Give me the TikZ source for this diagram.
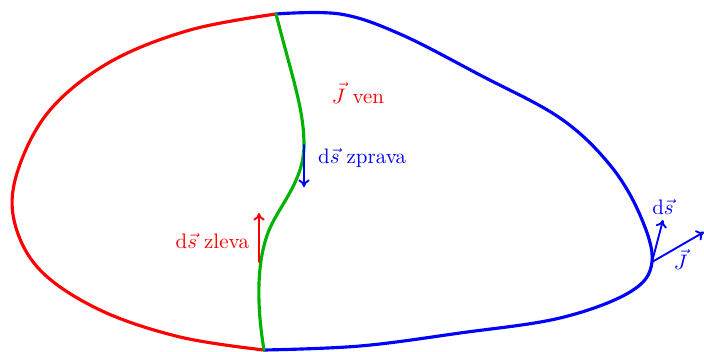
\documentclass[tikz,border=0pt]{standalone}
\usetikzlibrary{positioning, arrows.meta}
\begin{document}
\begin{tikzpicture}[line join=round, line cap=round, >={To[length=3.6pt, width=5.4pt]}, x=0.1676cm, y=-0.1676cm]

	\useasboundingbox (0,0) rectangle (70.4,35.1);

	\coordinate (T) at (27.6, 1.4);
	\coordinate (B) at (26.4, 35.0);
	\coordinate (P) at (65.2, 26.2);
	\coordinate (R) at (30.4, 14.5);
	\coordinate (L) at (25.9, 26.2);
	\coordinate (S) at (27.0, 22.8);

	% levy okraj
	\draw[red, line width=1.5pt] plot[smooth, tension=0.6] coordinates {(T) (19,3) (11,6.2) (5,11) (1.8,17) (1.4,22) (4,27) (10,31) (18,33.7) (B)};
	% pravy okraj
	\draw[blue, line width=1.5pt] plot[smooth, tension=0.6] coordinates {(T) (34,1.4) (40,3.4) (48,7.5) (56,11.8) (61,16.5) (64,21.5) (P) (63,29.2) (56,31.8) (46,33.3) (36,34.6) (B)};
	% deleni
	\draw[green!70!black, line width=1.5pt] (T) .. controls (29.3,8) and (30.4,11) .. (R)
	 .. controls (30.4,18) and (28,20.5) .. (S)
	 .. controls (26,25) and (25.4,29) .. (B);

	\draw[red, line width=0.9pt, ->] (L) -- +(0,-4.9) node[left=1pt, pos=0.43] {$\mathrm{d}\vec s$ zleva};
	\draw[blue, line width=0.9pt, ->] (R) -- +(0,4.2) node[right=3pt, pos=0.32] {$\mathrm{d}\vec s$ zprava};
	\node[red] (ven) at (35.8, 9.3) {$\vec J$ ven};

	\draw[blue, line width=0.9pt, ->] (P) -- +(5.2,-3.0) node[pos=0.55, below=-2pt] {$\vec J$};
	\draw[blue, line width=0.9pt, ->] (P) -- +(1.1,-4.2) node[above=-1pt] {$\mathrm{d}\vec s$};
\end{tikzpicture}
\end{document}
